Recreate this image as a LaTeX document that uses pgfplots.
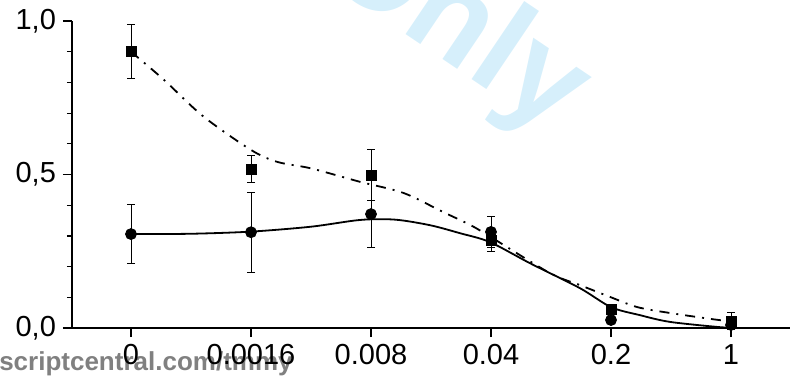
\documentclass[border=0pt]{standalone}
\usepackage{fontspec}
\setmainfont{Liberation Sans}
\usepackage{pgfplots}
\usepackage{pgfplotstable}
\pgfplotsset{compat=1.18}
\definecolor{wmblue}{RGB}{214,239,251}
\definecolor{wmgray}{RGB}{128,128,128}
\pgfplotstableread{
x y e
0 0.900 0.088
1 0.518 0.045
2 0.498 0.083
3 0.287 0.038
4 0.059 0.010
5 0.023 0.029
}\squares
\pgfplotstableread{
x y e
0 0.306 0.095
1 0.312 0.130
2 0.371 0.110
3 0.313 0.050
4 0.026 0.006
5 0.010 0.006
}\circles
\begin{document}
\begin{tikzpicture}
\clip (0,0) rectangle (395pt,188.5pt);
\node[rotate=-34, anchor=base west, inner sep=0pt, text=wmblue, font=\fontsize{65}{72}\selectfont\bfseries] at (157pt,202pt) {Only};
\node[anchor=base east, inner sep=0pt, text=wmgray, font=\fontsize{13}{15}\selectfont\bfseries] at (146.5pt,3.5pt) {http://mc.manuscriptcentral.com/tmmy};
\begin{axis}[
  at={(36pt,24.5pt)}, anchor=south west,
  width=359pt, height=153.5pt, scale only axis,
  xmin=-0.4917, xmax=5.4917, ymin=0, ymax=1,
  axis x line*=bottom, axis y line*=left,
  axis line style={line width=1pt},
  xtick={0,1,2,3,4,5}, xticklabels={0,0.0016,0.008,0.04,0.2,1},
  ytick={0,0.5,1}, yticklabels={{0,0},{0,5},{1,0}},
  minor y tick num=4,
  tick align=outside,
  major tick length=4.5pt, minor tick length=2.5pt,
  tick style={line width=0.6pt, black},
  ticklabel style={font=\fontsize{14.5}{17}\selectfont},
  clip=false,
]
\addplot[smooth, tension=0.5, black, line width=0.9pt, dash pattern=on 5pt off 3.5pt on 1pt off 3.5pt] coordinates {
(0,0.90) (0.27,0.81) (0.6,0.69) (1,0.58) (1.22,0.541) (1.5,0.52) (1.91,0.476) (2.27,0.44) (2.6,0.378) (2.83,0.335) (3,0.296) (3.49,0.179) (3.74,0.14) (4,0.10) (4.22,0.068) (4.49,0.049) (4.9,0.026) (5,0.025)};
\addplot[smooth, tension=0.5, black, line width=0.9pt] coordinates {
(0,0.306) (0.5,0.307) (1,0.314) (1.5,0.33) (1.91,0.352) (2.2,0.353) (2.49,0.335) (2.74,0.309) (2.99,0.28) (3.33,0.21) (3.74,0.13) (4,0.068) (4.24,0.042) (4.49,0.02) (4.9,0.003) (5,0.002)};
\addplot[only marks, mark=*, mark size=2.75pt, black,
  error bars/.cd, y dir=both, y explicit,
  error bar style={line width=0.5pt},
  error mark options={rotate=90, mark size=2pt, line width=0.5pt}]
  table[x=x, y=y, y error=e] {\circles};
\addplot[only marks, mark=square*, mark size=2.5pt, black,
  error bars/.cd, y dir=both, y explicit,
  error bar style={line width=0.5pt},
  error mark options={rotate=90, mark size=2pt, line width=0.5pt}]
  table[x=x, y=y, y error=e] {\squares};
\end{axis}
\end{tikzpicture}
\end{document}
